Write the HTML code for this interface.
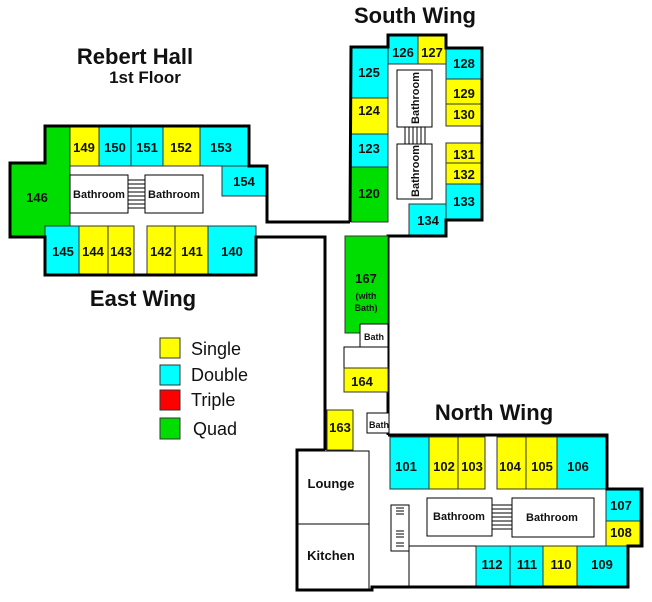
<!DOCTYPE html>
<html><head><style>
html,body{margin:0;padding:0;background:#fff}
svg{display:block}
text{font-family:"Liberation Sans",sans-serif;font-weight:bold;fill:#111}
text.lg{font-weight:normal;font-size:18px}
.r{stroke:#333;stroke-width:1}
.y{fill:#ffff00}.c{fill:#00ffff}.g{fill:#00dd00}
.n{font-size:13px;text-anchor:middle}
.b{font-size:11px;text-anchor:middle;font-weight:bold}
.o{fill:none;stroke:#000;stroke-width:3}
.t{stroke:#000;stroke-width:1;fill:#fff}
</style></head><body>
<svg width="652" height="602" viewBox="0 0 652 602" xmlns="http://www.w3.org/2000/svg">
<text x="415" y="23" font-size="22" text-anchor="middle">South Wing</text>
<text x="135" y="64" font-size="22" text-anchor="middle">Rebert Hall</text>
<text x="145" y="83" font-size="17" text-anchor="middle">1st Floor</text>
<text x="143" y="306" font-size="22" text-anchor="middle">East Wing</text>
<text x="494" y="420" font-size="22" text-anchor="middle">North Wing</text>

<rect x="160" y="338" width="20" height="20" fill="#ffff00" stroke="#333"/>
<rect x="160" y="365" width="20" height="20" fill="#00ffff" stroke="#333"/>
<rect x="160" y="390" width="20" height="20" fill="#ff0000" stroke="#333"/>
<rect x="160" y="418" width="20" height="21" fill="#00dd00" stroke="#333"/>
<text class="lg" x="191" y="355">Single</text>
<text class="lg" x="191" y="381">Double</text>
<text class="lg" x="191" y="406">Triple</text>
<text class="lg" x="193" y="435">Quad</text>

<polygon class="g r" points="45,125 70,125 70,237 10,237 10,163 45,163"/>
<rect class="y r" x="70" y="125" width="29" height="41"/>
<rect class="c r" x="99" y="125" width="32" height="41"/>
<rect class="c r" x="131" y="125" width="32" height="41"/>
<rect class="y r" x="163" y="125" width="37" height="41"/>
<rect class="c r" x="200" y="125" width="49" height="41"/>
<rect class="c r" x="222" y="166" width="44" height="30"/>
<rect class="c r" x="45" y="226" width="34" height="49"/>
<rect class="y r" x="79" y="226" width="29" height="49"/>
<rect class="y r" x="108" y="226" width="26" height="49"/>
<rect class="y r" x="147" y="226" width="28" height="49"/>
<rect class="y r" x="175" y="226" width="33" height="49"/>
<rect class="c r" x="208" y="226" width="48" height="49"/>
<rect class="t" x="70" y="175" width="58" height="38"/>
<rect class="t" x="145" y="175" width="58" height="38"/>
<g stroke="#000" stroke-width="1">
<line x1="128" y1="180" x2="145" y2="180"/><line x1="128" y1="184" x2="145" y2="184"/><line x1="128" y1="188" x2="145" y2="188"/><line x1="128" y1="192" x2="145" y2="192"/><line x1="128" y1="196" x2="145" y2="196"/><line x1="128" y1="200" x2="145" y2="200"/><line x1="128" y1="204" x2="145" y2="204"/><line x1="128" y1="208" x2="145" y2="208"/>
</g>
<text class="b" x="99" y="198">Bathroom</text>
<text class="b" x="174" y="198">Bathroom</text>
<text class="n" x="37" y="202" font-size="14">146</text>
<text class="n" x="84" y="152">149</text>
<text class="n" x="115" y="152">150</text>
<text class="n" x="147" y="152">151</text>
<text class="n" x="181" y="152">152</text>
<text class="n" x="221" y="152">153</text>
<text class="n" x="244" y="186">154</text>
<text class="n" x="63" y="256">145</text>
<text class="n" x="93" y="256">144</text>
<text class="n" x="121" y="256">143</text>
<text class="n" x="161" y="256">142</text>
<text class="n" x="192" y="256">141</text>
<text class="n" x="232" y="256">140</text>
<polyline class="o" points="350,222 267,222 267,166 249,166 249,126 45,126 45,163 10,163 10,237 45,237 45,275 256,275 256,237 325,237 325,450"/>

<rect class="c r" x="351" y="47" width="37" height="51"/>
<rect class="y r" x="351" y="98" width="37" height="36"/>
<rect class="c r" x="351" y="134" width="37" height="33"/>
<rect class="g r" x="351" y="167" width="37" height="55"/>
<rect class="c r" x="388" y="35" width="30" height="29"/>
<rect class="y r" x="418" y="35" width="28" height="29"/>
<rect class="c r" x="446" y="48" width="36" height="31"/>
<rect class="y r" x="446" y="79" width="36" height="25"/>
<rect class="y r" x="446" y="104" width="36" height="22"/>
<rect class="y r" x="446" y="143" width="36" height="20"/>
<rect class="y r" x="446" y="163" width="36" height="21"/>
<rect class="c r" x="446" y="184" width="36" height="36"/>
<rect class="c r" x="409" y="204" width="37" height="32"/>
<rect class="t" x="397" y="70" width="35" height="57"/>
<rect class="t" x="397" y="144" width="35" height="55"/>
<g stroke="#000" stroke-width="1">
<line x1="405" y1="127" x2="405" y2="144"/><line x1="409" y1="127" x2="409" y2="144"/><line x1="413" y1="127" x2="413" y2="144"/><line x1="417" y1="127" x2="417" y2="144"/><line x1="421" y1="127" x2="421" y2="144"/><line x1="425" y1="127" x2="425" y2="144"/>
</g>
<text class="b" transform="translate(419,98) rotate(-90)">Bathroom</text>
<text class="b" transform="translate(419,171) rotate(-90)">Bathroom</text>
<text class="n" x="369" y="77">125</text>
<text class="n" x="369" y="115">124</text>
<text class="n" x="369" y="153">123</text>
<text class="n" x="369" y="198">120</text>
<text class="n" x="403" y="57">126</text>
<text class="n" x="432" y="57">127</text>
<text class="n" x="464" y="68">128</text>
<text class="n" x="464" y="98">129</text>
<text class="n" x="464" y="119">130</text>
<text class="n" x="464" y="159">131</text>
<text class="n" x="464" y="179">132</text>
<text class="n" x="464" y="206">133</text>
<text class="n" x="428" y="225">134</text>
<polyline class="o" points="350,222 351,47 388,47 388,35 446,35 446,48 482,48 482,220 446,220 446,236 388,236 388,435"/>

<rect class="g r" x="345" y="236" width="43" height="97"/>
<text class="n" x="366" y="283">167</text>
<text x="366" y="299" font-size="9" text-anchor="middle">(with</text>
<text x="366" y="311" font-size="9" text-anchor="middle">Bath)</text>
<rect class="t" x="360" y="324" width="28" height="28"/>
<text x="374" y="340" font-size="9" text-anchor="middle">Bath</text>
<rect class="t" x="344" y="347" width="44" height="21"/>
<rect class="y r" x="344" y="368" width="44" height="24"/>
<text class="n" x="362" y="386">164</text>
<rect class="y r" x="327" y="410" width="26" height="40"/>
<text class="n" x="340" y="432">163</text>
<rect class="t" x="367" y="413" width="22" height="20"/>
<text x="379" y="428" font-size="9" text-anchor="middle">Bath</text>

<rect class="c r" x="390" y="437" width="39" height="52"/>
<rect class="y r" x="429" y="437" width="29" height="52"/>
<rect class="y r" x="458" y="437" width="27" height="52"/>
<rect class="y r" x="497" y="437" width="29" height="52"/>
<rect class="y r" x="526" y="437" width="31" height="52"/>
<rect class="c r" x="557" y="437" width="49" height="52"/>
<rect class="c r" x="606" y="490" width="34" height="31"/>
<rect class="y r" x="606" y="521" width="34" height="25"/>
<rect class="c r" x="476" y="546" width="34" height="40"/>
<rect class="c r" x="510" y="546" width="33" height="40"/>
<rect class="y r" x="543" y="546" width="34" height="40"/>
<rect class="c r" x="577" y="546" width="51" height="40"/>
<rect class="t" x="427" y="498" width="65" height="38"/>
<rect class="t" x="512" y="498" width="82" height="39"/>
<g stroke="#000" stroke-width="1">
<line x1="492" y1="505" x2="512" y2="505"/><line x1="492" y1="509" x2="512" y2="509"/><line x1="492" y1="513" x2="512" y2="513"/><line x1="492" y1="517" x2="512" y2="517"/><line x1="492" y1="521" x2="512" y2="521"/><line x1="492" y1="525" x2="512" y2="525"/><line x1="492" y1="529" x2="512" y2="529"/>
</g>
<text class="b" x="459" y="520">Bathroom</text>
<text class="b" x="552" y="521">Bathroom</text>
<rect class="t" x="391" y="505" width="18" height="46"/>
<g stroke="#000" stroke-width="1">
<line x1="396" y1="508" x2="404" y2="508"/><line x1="396" y1="511" x2="404" y2="511"/><line x1="396" y1="514" x2="404" y2="514"/><line x1="396" y1="531" x2="404" y2="531"/><line x1="396" y1="534" x2="404" y2="534"/><line x1="396" y1="537" x2="404" y2="537"/><line x1="396" y1="543" x2="404" y2="543"/><line x1="396" y1="546" x2="404" y2="546"/>
</g>
<line x1="409" y1="546" x2="476" y2="546" stroke="#000"/>
<line x1="409" y1="546" x2="409" y2="587" stroke="#000"/>
<text class="n" x="406" y="471">101</text>
<text class="n" x="444" y="471">102</text>
<text class="n" x="472" y="471">103</text>
<text class="n" x="510" y="471">104</text>
<text class="n" x="542" y="471">105</text>
<text class="n" x="578" y="471">106</text>
<text class="n" x="621" y="510">107</text>
<text class="n" x="621" y="537">108</text>
<text class="n" x="492" y="569">112</text>
<text class="n" x="527" y="569">111</text>
<text class="n" x="561" y="569">110</text>
<text class="n" x="602" y="569">109</text>
<rect x="298" y="451" width="71" height="139" fill="#fff" stroke="#000" stroke-width="1"/>
<line x1="298" y1="524" x2="369" y2="524" stroke="#000"/>
<text x="331" y="488" font-size="13" text-anchor="middle">Lounge</text>
<text x="331" y="560" font-size="13" text-anchor="middle">Kitchen</text>
<polyline class="o" points="388,435 607,435 607,489 642,489 642,546 628,546 628,587 372,587 372,590 297,590 297,450 325,450"/>
</svg>
</body></html>
